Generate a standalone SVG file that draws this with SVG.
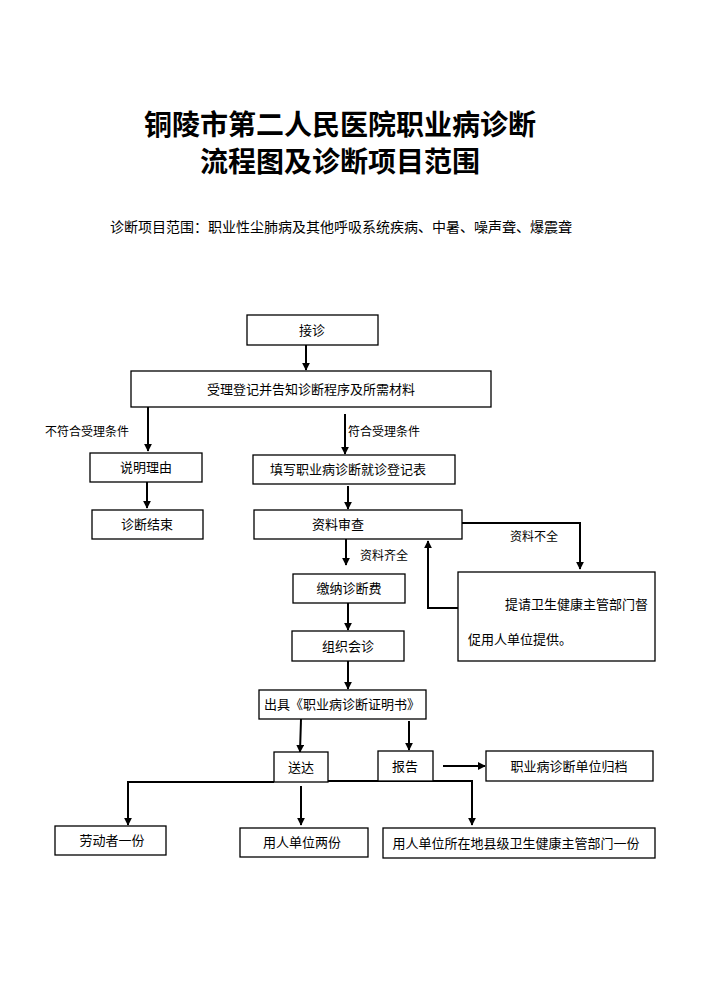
<svg xmlns="http://www.w3.org/2000/svg" width="708" height="1000" viewBox="0 0 708 1000">
<style>
text{font-family:"Liberation Serif","Noto Sans CJK SC",serif;fill:#000}
.t{font-size:28px;font-weight:bold;text-anchor:middle}
.n{font-size:13px;text-anchor:middle;dominant-baseline:central}
.l{font-size:12px}
rect{fill:#fff;stroke:#000;stroke-width:1.3}
.c line,.c polyline{stroke:#000;stroke-width:2;fill:none}
</style>
<defs><marker id="a" viewBox="0 0 10 10" refX="9" refY="5" markerWidth="4" markerHeight="4" orient="auto"><path d="M0,0L10,5L0,10z" fill="#000"/></marker></defs>
<rect width="708" height="1000" style="stroke:none"/>
<text class="t" x="340" y="135">铜陵市第二人民医院职业病诊断</text>
<text class="t" x="340" y="172">流程图及诊断项目范围</text>
<text x="110" y="232" style="font-size:14px">诊断项目范围：职业性尘肺病及其他呼吸系统疾病、中暑、噪声聋、爆震聋</text>
<g class="c">
<line x1="306" y1="345" x2="306" y2="370" marker-end="url(#a)"/>
<line x1="148" y1="407" x2="148" y2="451" marker-end="url(#a)"/>
<line x1="345" y1="414" x2="345" y2="454" marker-end="url(#a)"/>
<line x1="147" y1="482" x2="147" y2="508" marker-end="url(#a)"/>
<line x1="348" y1="486" x2="348" y2="509" marker-end="url(#a)"/>
<polyline points="462,523 580,523 580,569" marker-end="url(#a)"/>
<polyline points="458,608 428,608 428,541" marker-end="url(#a)"/>
<line x1="346" y1="539" x2="346" y2="565" marker-end="url(#a)"/>
<line x1="348" y1="603" x2="348" y2="630" marker-end="url(#a)"/>
<line x1="348" y1="661" x2="348" y2="689" marker-end="url(#a)"/>
<line x1="301" y1="719" x2="300" y2="752" marker-end="url(#a)"/>
<line x1="409" y1="721" x2="409" y2="750" marker-end="url(#a)"/>
<line x1="443" y1="766" x2="485" y2="766" marker-end="url(#a)"/>
<polyline points="274,782 128,782 128,825" marker-end="url(#a)"/>
<polyline points="328,781 472,781 472,825" marker-end="url(#a)"/>
<line x1="301" y1="786" x2="301" y2="825" marker-end="url(#a)"/>
</g>
<text class="l" x="45" y="436">不符合受理条件</text>
<text class="l" x="348" y="436">符合受理条件</text>
<text class="l" x="510" y="541">资料不全</text>
<text class="l" x="360" y="560">资料齐全</text>
<g id="n1"><rect x="247" y="315" width="131" height="30"/><text class="n" x="312" y="330">接诊</text></g>
<g id="n2"><rect x="131" y="371" width="360" height="36"/><text class="n" x="311" y="389">受理登记并告知诊断程序及所需材料</text></g>
<g id="n3"><rect x="90" y="453" width="112" height="29"/><text class="n" x="146" y="467">说明理由</text></g>
<g id="n4"><rect x="92" y="510" width="111" height="29"/><text class="n" x="147" y="524">诊断结束</text></g>
<g id="n5"><rect x="253" y="455" width="202" height="29"/><text class="n" x="348" y="469">填写职业病诊断就诊登记表</text></g>
<g id="n6"><rect x="254" y="510" width="208" height="29"/><text class="n" x="338" y="524">资料审查</text></g>
<g id="n7"><rect x="458" y="572" width="197" height="89"/><text class="l" x="505" y="609" style="font-size:13px">提请卫生健康主管部门督</text><text class="l" x="468" y="644" style="font-size:13px">促用人单位提供。</text></g>
<g id="n8"><rect x="293" y="574" width="112" height="29"/><text class="n" x="349" y="588">缴纳诊断费</text></g>
<g id="n9"><rect x="292" y="631" width="112" height="30"/><text class="n" x="348" y="646">组织会诊</text></g>
<g id="n10"><rect x="259" y="690" width="167" height="29"/><text class="n" x="342" y="704">出具《职业病诊断证明书》</text></g>
<g id="n11"><rect x="274" y="752" width="54" height="30"/><text class="n" x="301" y="767">送达</text></g>
<g id="n12"><rect x="378" y="751" width="55" height="30"/><text class="n" x="405" y="766">报告</text></g>
<g id="n13"><rect x="486" y="751" width="167" height="30"/><text class="n" x="569" y="766">职业病诊断单位归档</text></g>
<g id="n14"><rect x="55" y="826" width="111" height="29"/><text class="n" x="112" y="840">劳动者一份</text></g>
<g id="n15"><rect x="240" y="828" width="128" height="29"/><text class="n" x="302" y="842">用人单位两份</text></g>
<g id="n16"><rect x="383" y="828" width="272" height="30"/><text class="n" x="516" y="843">用人单位所在地县级卫生健康主管部门一份</text></g>
</svg>
